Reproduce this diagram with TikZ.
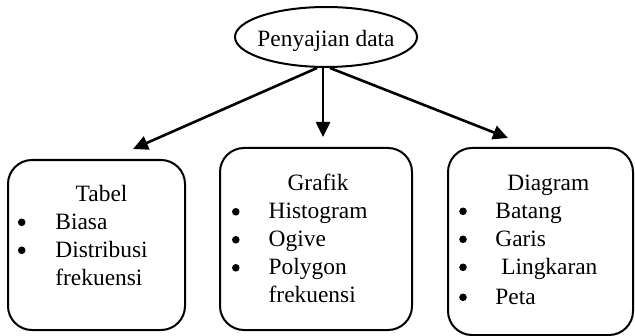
\documentclass[tikz,border=0pt]{standalone}
\usepackage{fontspec}
\setmainfont{Liberation Serif}
\usetikzlibrary{shapes.geometric, arrows.meta}

\tikzset{
  box/.style = {draw, line width = 1pt, rounded corners = 12pt, inner sep = 0},
  link/.style = {line width = 1.3pt, -{Triangle[length = 7.5pt, width = 7pt]}},
  list/.style = {anchor = base west, inner sep = 0, font = \fontsize{11.7}{14}\selectfont},
}

\begin{document}
\begin{tikzpicture}[x = 0.5pt, y = -0.5pt]
    \useasboundingbox (0,0) rectangle (635,336);
    \node [draw, ellipse, line width = 1pt, minimum width = 91pt,
    minimum height = 30pt, inner sep = 0] (root) at (326,37) {};
    \node [anchor = base, inner sep = 0, font = \fontsize{11.7}{14}\selectfont]
    (roottxt) at (326,46.5) {Penyajian data};
    \node [box, minimum width = 88.5pt, minimum height = 85pt] (tabel) at (96.5,245) {};
    \node [box, minimum width = 96pt, minimum height = 91pt] (grafik) at (316,239) {};
    \node [box, minimum width = 92.5pt, minimum height = 93.5pt] (diagram) at (540.5,241.5) {};
    \coordinate (tabeltip) at (133,149);
    \coordinate (grafiktip) at (323,137);
    \coordinate (diagramtip) at (508,138);
    \draw [link] ([xshift = -4.5pt]root.south) to (tabeltip);
    \draw [link] ([xshift = -1.5pt]root.south) to (grafiktip);
    \draw [link] ([xshift = 2pt]root.south) to (diagramtip);
    \node [list] (tabeltxt) at (55,201) {\begin{tabular}[t]{@{}l@{}}
      \multicolumn{1}{c}{Tabel}\\
      Biasa\\
      Distribusi\\
      frekuensi
    \end{tabular}};
    \node [list] (grafiktxt) at (268.3,190.5) {\begin{tabular}[t]{@{}l@{}}
      \multicolumn{1}{c}{Grafik}\\
      Histogram\\
      Ogive\\
      Polygon\\
      frekuensi
    \end{tabular}};
    \node [list] (diagramtxt) at (495,190) {\begin{tabular}[t]{@{}l@{}}
      \multicolumn{1}{c}{Diagram}\\
      Batang\\
      Garis\\
      \ Lingkaran\\[1pt]
      Peta
    \end{tabular}};
    \foreach \y in {222.3, 250.3}
      \fill (21.7,\y) circle (1.9pt);
    \foreach \y in {211.8, 239.8, 267.8}
      \fill (235.8,\y) circle (1.9pt);
    \foreach \y in {211.3, 239.3, 267.3, 297.3}
      \fill (463,\y) circle (1.9pt);
\end{tikzpicture}
\end{document}
